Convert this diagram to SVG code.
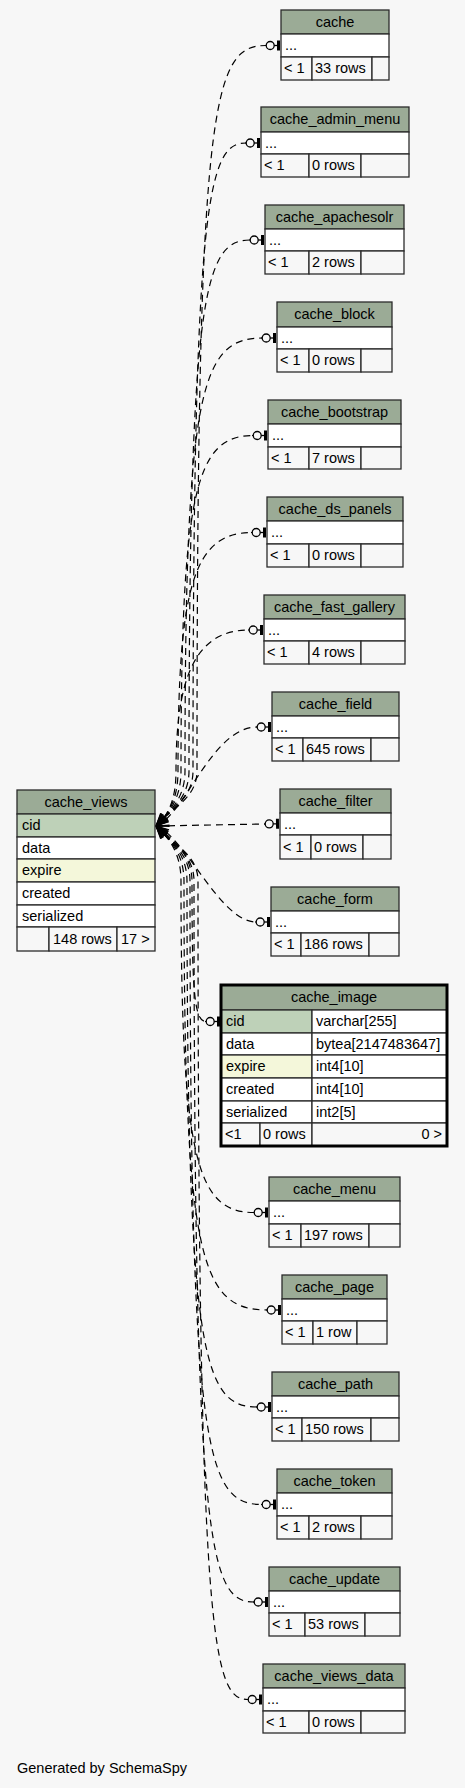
<svg xmlns="http://www.w3.org/2000/svg" width="465" height="1788" viewBox="0 0 465 1788">
<style>
.hd{fill:#9bab96;stroke:#2b2b2b;stroke-width:1.3}
.wt{fill:#ffffff;stroke:#2b2b2b;stroke-width:1.3}
.pk{fill:#bed1b8;stroke:#2b2b2b;stroke-width:1.3}
.ix{fill:#f4f7da;stroke:#2b2b2b;stroke-width:1.3}
.ft{fill:#f7f7f7;stroke:#2b2b2b;stroke-width:1.3}
.sel{fill:none;stroke:#000;stroke-width:3}
text{font-family:"Liberation Sans",Arial,Helvetica,sans-serif;font-size:14.5px;fill:#000}
.c{text-anchor:middle}
.r{text-anchor:end}
.e{fill:none;stroke:#000;stroke-width:1.2;stroke-dasharray:7,5;marker-start:url(#crow);marker-end:url(#teeodot)}
</style>
<defs>
<marker id="crow" markerUnits="userSpaceOnUse" orient="auto" refX="0" refY="0" markerWidth="20" markerHeight="20" overflow="visible">
<path d="M13,-4 L0,0 L13,4 M0,0 L13,0" fill="none" stroke="#000" stroke-width="1.1"/>
</marker>
<marker id="teeodot" markerUnits="userSpaceOnUse" orient="auto" refX="0" refY="0" markerWidth="20" markerHeight="20" overflow="visible">
<line x1="-1" y1="0" x2="0.2" y2="0" stroke="#000" stroke-width="1.2"/>
<circle cx="4.2" cy="0" r="4" fill="none" stroke="#000" stroke-width="1.3"/>
<line x1="8.2" y1="0" x2="11" y2="0" stroke="#000" stroke-width="1.3"/>
<rect x="11" y="-5" width="3" height="10" fill="#000"/>
</marker>
</defs>
<rect x="0" y="0" width="465" height="1788" fill="#f7f7f7"/>

<g id="connectors">
<path class="e" d="M156,826 C168,810 197,800 197,771 C197,100.5 212,45.5 266,45.5"/>
<path class="e" d="M156,826 C168,811 193,800 193,771 C193,198 208,143 246,143"/>
<path class="e" d="M156,826 C168,812 189,800 189,771 C189,295 204,240 250,240"/>
<path class="e" d="M156,826 C168,813 185,800 185,771 C185,393 200,338 262,338"/>
<path class="e" d="M156,826 C168,814 181,800 181,771 C181,490.5 196,435.5 253,435.5"/>
<path class="e" d="M156,826 C168,815 178,800 178,771 C178,587.5 193,532.5 252,532.5"/>
<path class="e" d="M156,826 C168,816 176,800 176,771 C176,682 193,630 249,630"/>
<path class="e" d="M156,826 C185,815 212,727 257,727"/>
<path class="e" d="M156,826 L265,824"/>
<path class="e" d="M156,826 C185,836 220,922 256,922"/>
<path class="e" d="M156,826 C168,836 192,852 192,881 C192,990 194,1021.5 206,1021.5"/>
<path class="e" d="M156,826 C168,837 181,852 181,881 C181,1157.5 196,1212.5 254,1212.5"/>
<path class="e" d="M156,826 C168,838 184,852 184,881 C184,1255 199,1310 267,1310"/>
<path class="e" d="M156,826 C168,839 187,852 187,881 C187,1352 202,1407 257,1407"/>
<path class="e" d="M156,826 C168,840 190,852 190,881 C190,1449.5 205,1504.5 262,1504.5"/>
<path class="e" d="M156,826 C168,841 194,852 194,881 C194,1547 209,1602 254,1602"/>
<path class="e" d="M156,826 C168,842 198,852 198,881 C198,1644.5 213,1699.5 248,1699.5"/>
</g>

<g id="cache_views">
<rect class="hd" x="17" y="790" width="138" height="24"/>
<rect class="pk" x="17" y="814" width="138" height="23"/>
<rect class="wt" x="17" y="837" width="138" height="22"/>
<rect class="ix" x="17" y="859" width="138" height="23"/>
<rect class="wt" x="17" y="882" width="138" height="23"/>
<rect class="wt" x="17" y="905" width="138" height="22"/>
<rect class="ft" x="17" y="927" width="32" height="24"/>
<rect class="ft" x="49" y="927" width="68" height="24"/>
<rect class="ft" x="117" y="927" width="38" height="24"/>
<text class="c" x="86" y="806.5">cache_views</text>
<text x="22" y="830">cid</text>
<text x="22" y="852.5">data</text>
<text x="22" y="875">expire</text>
<text x="22" y="898">created</text>
<text x="22" y="920.5">serialized</text>
<text x="53" y="943.5">148 rows</text>
<text x="121" y="943.5">17 &gt;</text>
</g>

<g id="cache">
<rect class="hd" x="281" y="10" width="108" height="24"/>
<rect class="wt" x="281" y="34" width="108" height="23"/>
<rect class="ft" x="281" y="57" width="31" height="23"/>
<rect class="ft" x="312" y="57" width="60" height="23"/>
<rect class="ft" x="372" y="57" width="17" height="23"/>
<text class="c" x="335" y="26.5">cache</text>
<text x="285" y="50">...</text>
<text x="284" y="73">&lt; 1</text>
<text x="315" y="73">33 rows</text>
</g>

<g id="cache_admin_menu">
<rect class="hd" x="261" y="107" width="148" height="25"/>
<rect class="wt" x="261" y="132" width="148" height="22"/>
<rect class="ft" x="261" y="154" width="48" height="23"/>
<rect class="ft" x="309" y="154" width="52" height="23"/>
<rect class="ft" x="361" y="154" width="48" height="23"/>
<text class="c" x="335" y="124">cache_admin_menu</text>
<text x="265" y="147.5">...</text>
<text x="264" y="170">&lt; 1</text>
<text x="312" y="170">0 rows</text>
</g>

<g id="cache_apachesolr">
<rect class="hd" x="265" y="205" width="139" height="24"/>
<rect class="wt" x="265" y="229" width="139" height="22"/>
<rect class="ft" x="265" y="251" width="44" height="23"/>
<rect class="ft" x="309" y="251" width="52" height="23"/>
<rect class="ft" x="361" y="251" width="43" height="23"/>
<text class="c" x="334.5" y="221.5">cache_apachesolr</text>
<text x="269" y="244.5">...</text>
<text x="268" y="267">&lt; 1</text>
<text x="312" y="267">2 rows</text>
</g>

<g id="cache_block">
<rect class="hd" x="277" y="302" width="115" height="25"/>
<rect class="wt" x="277" y="327" width="115" height="22"/>
<rect class="ft" x="277" y="349" width="32" height="23"/>
<rect class="ft" x="309" y="349" width="52" height="23"/>
<rect class="ft" x="361" y="349" width="31" height="23"/>
<text class="c" x="334.5" y="319">cache_block</text>
<text x="281" y="342.5">...</text>
<text x="280" y="365">&lt; 1</text>
<text x="312" y="365">0 rows</text>
</g>

<g id="cache_bootstrap">
<rect class="hd" x="268" y="400" width="133" height="24"/>
<rect class="wt" x="268" y="424" width="133" height="23"/>
<rect class="ft" x="268" y="447" width="41" height="22"/>
<rect class="ft" x="309" y="447" width="52" height="22"/>
<rect class="ft" x="361" y="447" width="40" height="22"/>
<text class="c" x="334.5" y="416.5">cache_bootstrap</text>
<text x="272" y="440">...</text>
<text x="271" y="462.5">&lt; 1</text>
<text x="312" y="462.5">7 rows</text>
</g>

<g id="cache_ds_panels">
<rect class="hd" x="267" y="497" width="136" height="24"/>
<rect class="wt" x="267" y="521" width="136" height="23"/>
<rect class="ft" x="267" y="544" width="42" height="23"/>
<rect class="ft" x="309" y="544" width="52" height="23"/>
<rect class="ft" x="361" y="544" width="42" height="23"/>
<text class="c" x="335" y="513.5">cache_ds_panels</text>
<text x="271" y="537">...</text>
<text x="270" y="560">&lt; 1</text>
<text x="312" y="560">0 rows</text>
</g>

<g id="cache_fast_gallery">
<rect class="hd" x="264" y="595" width="141" height="24"/>
<rect class="wt" x="264" y="619" width="141" height="22"/>
<rect class="ft" x="264" y="641" width="45" height="23"/>
<rect class="ft" x="309" y="641" width="52" height="23"/>
<rect class="ft" x="361" y="641" width="44" height="23"/>
<text class="c" x="334.5" y="611.5">cache_fast_gallery</text>
<text x="268" y="634.5">...</text>
<text x="267" y="657">&lt; 1</text>
<text x="312" y="657">4 rows</text>
</g>

<g id="cache_field">
<rect class="hd" x="272" y="692" width="127" height="24"/>
<rect class="wt" x="272" y="716" width="127" height="22"/>
<rect class="ft" x="272" y="738" width="31" height="23"/>
<rect class="ft" x="303" y="738" width="68" height="23"/>
<rect class="ft" x="371" y="738" width="28" height="23"/>
<text class="c" x="335.5" y="708.5">cache_field</text>
<text x="276" y="731.5">...</text>
<text x="275" y="754">&lt; 1</text>
<text x="306" y="754">645 rows</text>
</g>

<g id="cache_filter">
<rect class="hd" x="280" y="789" width="111" height="24"/>
<rect class="wt" x="280" y="813" width="111" height="22"/>
<rect class="ft" x="280" y="835" width="31" height="24"/>
<rect class="ft" x="311" y="835" width="52" height="24"/>
<rect class="ft" x="363" y="835" width="28" height="24"/>
<text class="c" x="335.5" y="805.5">cache_filter</text>
<text x="284" y="828.5">...</text>
<text x="283" y="851.5">&lt; 1</text>
<text x="314" y="851.5">0 rows</text>
</g>

<g id="cache_form">
<rect class="hd" x="271" y="887" width="128" height="24"/>
<rect class="wt" x="271" y="911" width="128" height="22"/>
<rect class="ft" x="271" y="933" width="30" height="23"/>
<rect class="ft" x="301" y="933" width="68" height="23"/>
<rect class="ft" x="369" y="933" width="30" height="23"/>
<text class="c" x="335" y="903.5">cache_form</text>
<text x="275" y="926.5">...</text>
<text x="274" y="949">&lt; 1</text>
<text x="304" y="949">186 rows</text>
</g>

<g id="cache_image">
<rect class="hd" x="221" y="985" width="226" height="25"/>
<rect class="pk" x="221" y="1010" width="91" height="23"/>
<rect class="wt" x="312" y="1010" width="135" height="23"/>
<rect class="wt" x="221" y="1033" width="91" height="22"/>
<rect class="wt" x="312" y="1033" width="135" height="22"/>
<rect class="ix" x="221" y="1055" width="91" height="23"/>
<rect class="wt" x="312" y="1055" width="135" height="23"/>
<rect class="wt" x="221" y="1078" width="91" height="23"/>
<rect class="wt" x="312" y="1078" width="135" height="23"/>
<rect class="wt" x="221" y="1101" width="91" height="22"/>
<rect class="wt" x="312" y="1101" width="135" height="22"/>
<rect class="ft" x="221" y="1123" width="39" height="23"/>
<rect class="ft" x="260" y="1123" width="52" height="23"/>
<rect class="ft" x="312" y="1123" width="135" height="23"/>
<rect class="sel" x="221" y="985" width="226" height="161"/>
<text class="c" x="334" y="1002">cache_image</text>
<text x="226" y="1026">cid</text>
<text x="316" y="1026">varchar[255]</text>
<text x="226" y="1048.5">data</text>
<text x="316" y="1048.5">bytea[2147483647]</text>
<text x="226" y="1071">expire</text>
<text x="316" y="1071">int4[10]</text>
<text x="226" y="1094">created</text>
<text x="316" y="1094">int4[10]</text>
<text x="226" y="1116.5">serialized</text>
<text x="316" y="1116.5">int2[5]</text>
<text x="225" y="1139">&lt;1</text>
<text x="263" y="1139">0 rows</text>
<text class="r" x="442" y="1139">0 &gt;</text>
</g>

<g id="cache_menu">
<rect class="hd" x="269" y="1177" width="131" height="24"/>
<rect class="wt" x="269" y="1201" width="131" height="23"/>
<rect class="ft" x="269" y="1224" width="32" height="23"/>
<rect class="ft" x="301" y="1224" width="68" height="23"/>
<rect class="ft" x="369" y="1224" width="31" height="23"/>
<text class="c" x="334.5" y="1193.5">cache_menu</text>
<text x="273" y="1217">...</text>
<text x="272" y="1240">&lt; 1</text>
<text x="304" y="1240">197 rows</text>
</g>

<g id="cache_page">
<rect class="hd" x="282" y="1275" width="105" height="24"/>
<rect class="wt" x="282" y="1299" width="105" height="22"/>
<rect class="ft" x="282" y="1321" width="31" height="23"/>
<rect class="ft" x="313" y="1321" width="44" height="23"/>
<rect class="ft" x="357" y="1321" width="30" height="23"/>
<text class="c" x="334.5" y="1291.5">cache_page</text>
<text x="286" y="1314.5">...</text>
<text x="285" y="1337">&lt; 1</text>
<text x="316" y="1337">1 row</text>
</g>

<g id="cache_path">
<rect class="hd" x="272" y="1372" width="127" height="24"/>
<rect class="wt" x="272" y="1396" width="127" height="22"/>
<rect class="ft" x="272" y="1418" width="30" height="23"/>
<rect class="ft" x="302" y="1418" width="69" height="23"/>
<rect class="ft" x="371" y="1418" width="28" height="23"/>
<text class="c" x="335.5" y="1388.5">cache_path</text>
<text x="276" y="1411.5">...</text>
<text x="275" y="1434">&lt; 1</text>
<text x="305" y="1434">150 rows</text>
</g>

<g id="cache_token">
<rect class="hd" x="277" y="1469" width="115" height="24"/>
<rect class="wt" x="277" y="1493" width="115" height="23"/>
<rect class="ft" x="277" y="1516" width="32" height="23"/>
<rect class="ft" x="309" y="1516" width="52" height="23"/>
<rect class="ft" x="361" y="1516" width="31" height="23"/>
<text class="c" x="334.5" y="1485.5">cache_token</text>
<text x="281" y="1509">...</text>
<text x="280" y="1532">&lt; 1</text>
<text x="312" y="1532">2 rows</text>
</g>

<g id="cache_update">
<rect class="hd" x="269" y="1567" width="131" height="24"/>
<rect class="wt" x="269" y="1591" width="131" height="22"/>
<rect class="ft" x="269" y="1613" width="36" height="23"/>
<rect class="ft" x="305" y="1613" width="60" height="23"/>
<rect class="ft" x="365" y="1613" width="35" height="23"/>
<text class="c" x="334.5" y="1583.5">cache_update</text>
<text x="273" y="1606.5">...</text>
<text x="272" y="1629">&lt; 1</text>
<text x="308" y="1629">53 rows</text>
</g>

<g id="cache_views_data">
<rect class="hd" x="263" y="1664" width="142" height="24"/>
<rect class="wt" x="263" y="1688" width="142" height="23"/>
<rect class="ft" x="263" y="1711" width="46" height="22"/>
<rect class="ft" x="309" y="1711" width="52" height="22"/>
<rect class="ft" x="361" y="1711" width="44" height="22"/>
<text class="c" x="334" y="1680.5">cache_views_data</text>
<text x="267" y="1704">...</text>
<text x="266" y="1726.5">&lt; 1</text>
<text x="312" y="1726.5">0 rows</text>
</g>

<text x="17" y="1773">Generated by SchemaSpy</text>
</svg>
